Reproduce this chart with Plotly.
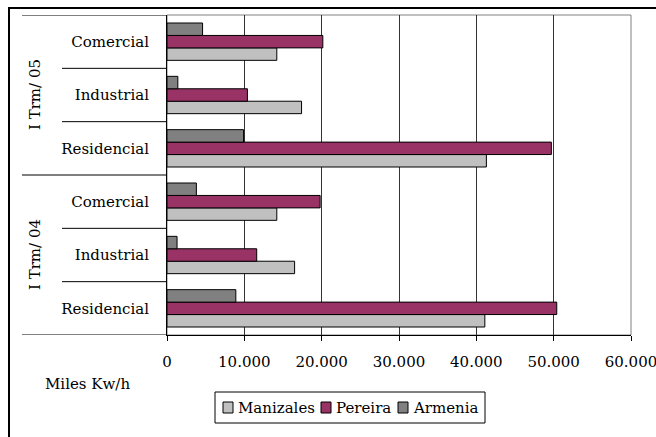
import plotly.graph_objects as go

periods = ["I Trm/ 04", "I Trm/ 05"]
sectors = ["Residencial", "Industrial", "Comercial"]
series_names = ["Manizales", "Pereira", "Armenia"]
manizales = [41100, 16500, 14200, 41300, 17400, 14200]
pereira = [50400, 11600, 19800, 49700, 10400, 20150]
armenia = [8900, 1300, 3800, 9900, 1400, 4600]
x_ticks = [0, 10000, 20000, 30000, 40000, 50000, 60000]
axis_title = "Miles Kw/h"

colors = ["#C0C0C0", "#993366", "#808080"]
font = "DejaVu Serif"
FS = 15

# plot area geometry (pixels) used to place decorations in paper units
L, R, T, B = 167, 631, 15, 335
PW, PH = R - L, B - T


def px(x):
    return (x - L) / PW


def py(y):
    return (B - y) / PH


cat_labels = [s for p in periods for s in sectors]
ypos = list(range(len(cat_labels)))

fig = go.Figure()
for name, vals, col in zip(series_names, [manizales, pereira, armenia], colors):
    fig.add_trace(go.Bar(
        x=vals, y=ypos, orientation="h", name=name, showlegend=False,
        marker=dict(color=col, line=dict(color="black", width=1)),
    ))

shapes = []
# plot area border (grey)
shapes.append(dict(type="rect", xref="paper", yref="paper", x0=0, x1=1, y0=0, y1=1,
                   line=dict(color="#808080", width=1), layer="below"))
# outer chart frame
shapes.append(dict(type="rect", xref="paper", yref="paper", x0=px(9), x1=px(700),
                   y0=py(480), y1=py(8), line=dict(color="black", width=2)))
# category dividers
n = len(sectors)
for i in range(len(cat_labels) + 1):
    y = i - 0.5
    x0 = px(22) if i % n == 0 else px(62)
    shapes.append(dict(type="line", xref="paper", yref="y", x0=x0, x1=0, y0=y, y1=y,
                       line=dict(color="black", width=1)))

annotations = []
for gi, p in enumerate(periods):
    annotations.append(dict(text=p, xref="paper", yref="y", x=px(35),
                            y=gi * n + (n - 1) / 2, textangle=-90, showarrow=False,
                            font=dict(family=font, size=FS, color="black"),
                            xanchor="center", yanchor="middle"))
annotations.append(dict(text=axis_title, xref="paper", yref="paper", x=px(43),
                        y=py(384), showarrow=False, xanchor="left", yanchor="middle",
                        font=dict(family=font, size=FS, color="black")))

# legend (drawn manually to match compact layout)
shapes.append(dict(type="rect", xref="paper", yref="paper", x0=px(215), x1=px(485),
                   y0=py(423), y1=py(392), line=dict(color="black", width=1),
                   fillcolor="white"))
sq_x = [223, 321, 398]
for name, col, sx in zip(series_names, colors, sq_x):
    shapes.append(dict(type="rect", xref="paper", yref="paper", x0=px(sx), x1=px(sx + 10),
                       y0=py(413), y1=py(402), line=dict(color="black", width=1),
                       fillcolor=col))
    annotations.append(dict(text=name, xref="paper", yref="paper", x=px(sx + 13),
                            y=py(407.5), showarrow=False, xanchor="left", yanchor="middle",
                            font=dict(family=font, size=FS, color="black")))

fig.update_layout(
    width=656, height=437,
    margin=dict(l=L, r=656 - R, t=T, b=437 - B, autoexpand=False),
    paper_bgcolor="white", plot_bgcolor="white",
    barmode="group", bargap=0.3, bargroupgap=0,
    separators=",.",
    font=dict(family=font, size=FS, color="black"),
    showlegend=False,
    shapes=shapes, annotations=annotations,
    xaxis=dict(range=[0, 60000], tickvals=x_ticks, tickformat=",d", showgrid=True,
               gridcolor="#333333", gridwidth=1, showline=True, linecolor="black",
               linewidth=1, ticks="outside", ticklen=5, tickcolor="black",
               ticklabelstandoff=8, zeroline=False, automargin=False,
               ticklabeloverflow="allow",
               tickfont=dict(family=font, size=FS)),
    yaxis=dict(range=[-0.5, len(cat_labels) - 0.5], tickvals=ypos, ticktext=cat_labels,
               showgrid=False, showline=True, linecolor="black", linewidth=1,
               ticks="", ticklabelstandoff=14, zeroline=False, automargin=False,
               tickfont=dict(family=font, size=FS)),
)

fig.write_html("out.html", config={"displayModeBar": False})

# remove the browser's default page margin so the figure sits at the window origin
with open("out.html", encoding="utf-8") as f:
    html = f.read()
html = html.replace("<head>", "<head><style>html,body{margin:0;padding:0;overflow:hidden;}</style>", 1)
with open("out.html", "w", encoding="utf-8") as f:
    f.write(html)
